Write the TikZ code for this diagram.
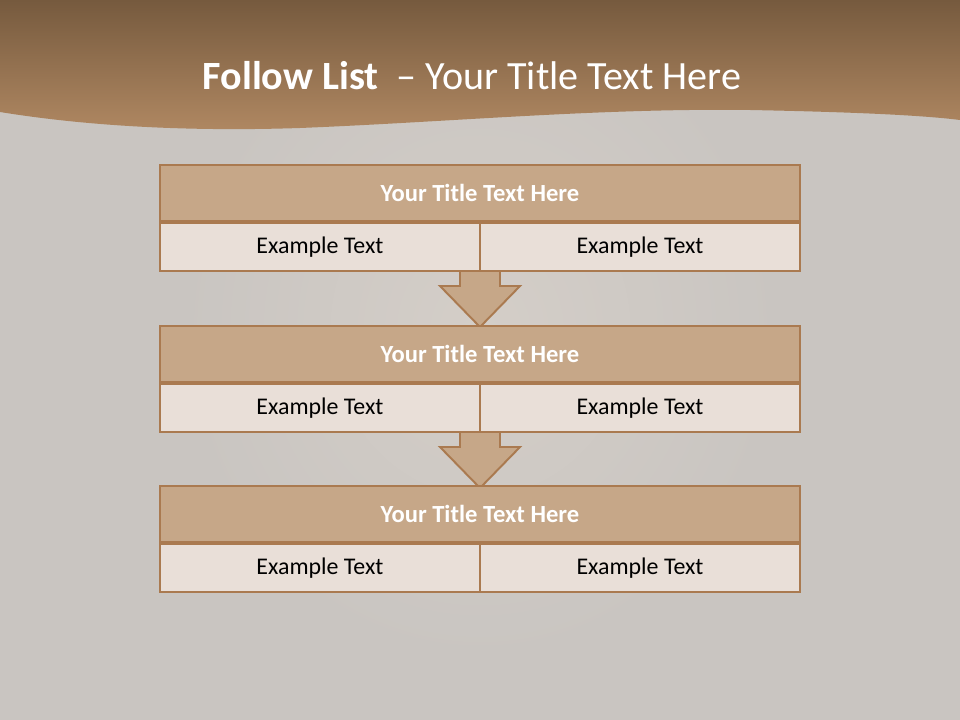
\documentclass[tikz,border=0pt]{standalone}
\usepackage{fontspec}
\setmainfont{Carlito}
\usetikzlibrary{positioning,calc}

\definecolor{slidebg}{RGB}{201,197,193}
\definecolor{slideglow}{RGB}{212,206,200}
\definecolor{hdrtop}{RGB}{118,90,62}
\definecolor{hdrbottom}{RGB}{176,136,98}
\definecolor{tanfill}{RGB}{198,167,136}
\definecolor{tanline}{RGB}{170,122,80}
\definecolor{cellfill}{RGB}{233,223,216}

\begin{document}
\begin{tikzpicture}[
    x=0.025cm, y=-0.025cm,
    titlebox/.style={draw=tanline, fill=tanfill, line width=1.4pt, minimum width=16cm, minimum height=1.4cm, inner sep=0pt, font=\fontsize{17.5}{20}\selectfont\bfseries, text=white},
    cellbox/.style={draw=tanline, fill=cellfill, line width=1.4pt, minimum width=8cm, minimum height=1.2cm, inner sep=0pt, font=\fontsize{17}{20}\selectfont, text=black},
    flowarrow/.style={draw=tanline, fill=tanfill, line width=1.4pt, line join=miter}
]
\useasboundingbox (0,0) rectangle (960,720);

% background and header
\fill[slidebg] (0,0) rectangle (960,720);
\shade[inner color=slideglow, outer color=slidebg] (480,330) ellipse (300 and 330);
\shade[top color=hdrtop, bottom color=hdrbottom]
    (0,0) -- (960,0) -- (960,120)
    .. controls (920,115) and (850,112) .. (750,110)
    .. controls (600,108) and (450,122) .. (300,128)
    .. controls (180,132) and (80,125) .. (0,112) -- cycle;
\node[text=white, font=\fontsize{28.5}{32}\selectfont] (heading) at (472,76)
    {\textbf{Follow List} \ -- Your Title Text Here};

% arrows between the lists
\foreach \i/\j in {1/2,2/3}{
  \coordinate (top\i) at (480,{193+161*(\i-1)+28+48});
  \coordinate (tip\i) at (480,{193+161*(\j-1)-27});
  \draw[flowarrow] ($(top\i)+(-20,0)$) -- ++(0,17) -- ++(-20,0) -- (tip\i)
      -- ($(top\i)+(40,17)$) -- ++(-20,0) -- ($(top\i)+(20,0)$) -- cycle;
}

% the three lists
\foreach \i/\y in {1/193,2/354,3/514}{
  \node[titlebox] (title\i) at (480,\y) {Your Title Text Here};
  \node[cellbox, anchor=north west] (left\i) at (title\i.south west) {Example Text};
  \node[cellbox, anchor=north east] (right\i) at (title\i.south east) {Example Text};
}

\end{tikzpicture}
\end{document}
